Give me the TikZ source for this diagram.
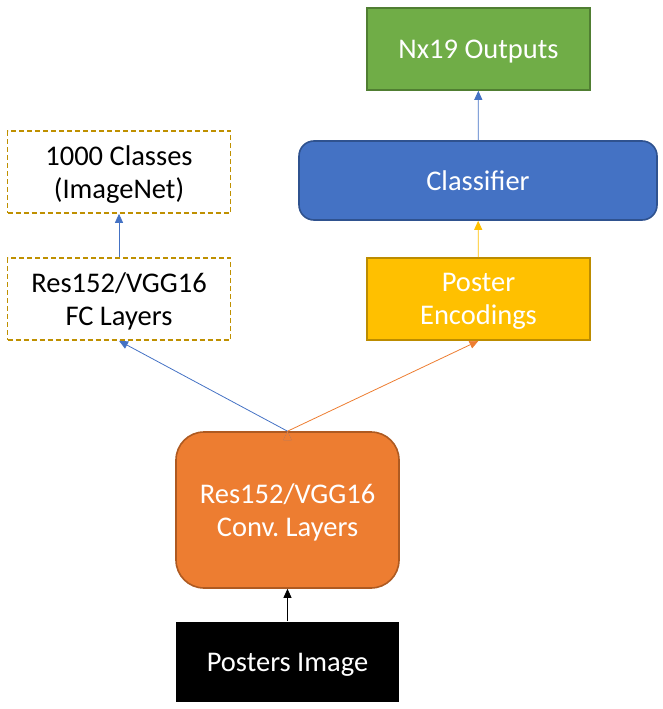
\documentclass[tikz,border=0pt]{standalone}
\usepackage{fontspec}
\setmainfont{Carlito}
\usetikzlibrary{arrows.meta}

\definecolor{offgreen}{HTML}{70AD47}
\definecolor{offgreenline}{HTML}{507E32}
\definecolor{offblue}{HTML}{4472C4}
\definecolor{offblueline}{HTML}{2F528F}
\definecolor{offyellow}{HTML}{FFC000}
\definecolor{offyellowline}{HTML}{BC8C00}
\definecolor{offorange}{HTML}{ED7D31}
\definecolor{offorangeline}{HTML}{AE5A21}
\definecolor{offgold}{HTML}{BF9000}

\begin{document}
\begin{tikzpicture}[x=1pt, y=-1pt]
            \tikzset{box/.style = {minimum width=223pt, minimum height=82pt, align=center, line width=1.6pt,
                                   font=\fontsize{28.5}{33}\selectfont\frenchspacing, inner sep=0pt, text depth=0pt}}
            \tikzset{dashbox/.style = {box, draw=offgold, dashed, dash pattern=on 5pt off 3pt}}
            \tikzset{link/.style = {line width=0.8pt, -{Triangle[length=9pt,width=8pt]}}}

            \useasboundingbox (0,0) rectangle (662,709);

            \node[box, fill=offgreen, draw=offgreenline, text=white] (outputs) at (478.5,49) {Nx19 Outputs};
            \node[box, fill=offblue, draw=offblueline, text=white, minimum width=358pt, minimum height=79pt,
                  rounded corners=15pt] (classifier) at (478,180.5) {Classifier};
            \node[box, fill=offyellow, draw=offyellowline, text=white] (encodings) at (478.5,299) {Poster\\Encodings};

            \node[dashbox] (classes) at (119,172) {1000 Classes\\(ImageNet)};
            \node[dashbox] (fclayers) at (119,299) {Res152/VGG16\\FC Layers};

            \node[box, fill=offorange, draw=offorangeline, text=white, minimum height=156pt,
                  rounded corners=28pt] (conv) at (287.5,510) {Res152/VGG16\\Conv. Layers};
            \node[box, fill=black, text=white, minimum height=80pt] (image) at (287.5,662) {Posters Image};

            % connections
            \draw[link] (image) edge (conv);
            \draw[link, offblue] (conv.north) edge (fclayers.south);
            \draw[link, offorange] (conv.north) edge (encodings.south);
            \draw[link, offblue] (fclayers) edge (classes);
            \draw[link, offyellow] (encodings) edge (classifier);
            \draw[link, offblue] (classifier) edge (outputs);

        \end{tikzpicture}
\end{document}
